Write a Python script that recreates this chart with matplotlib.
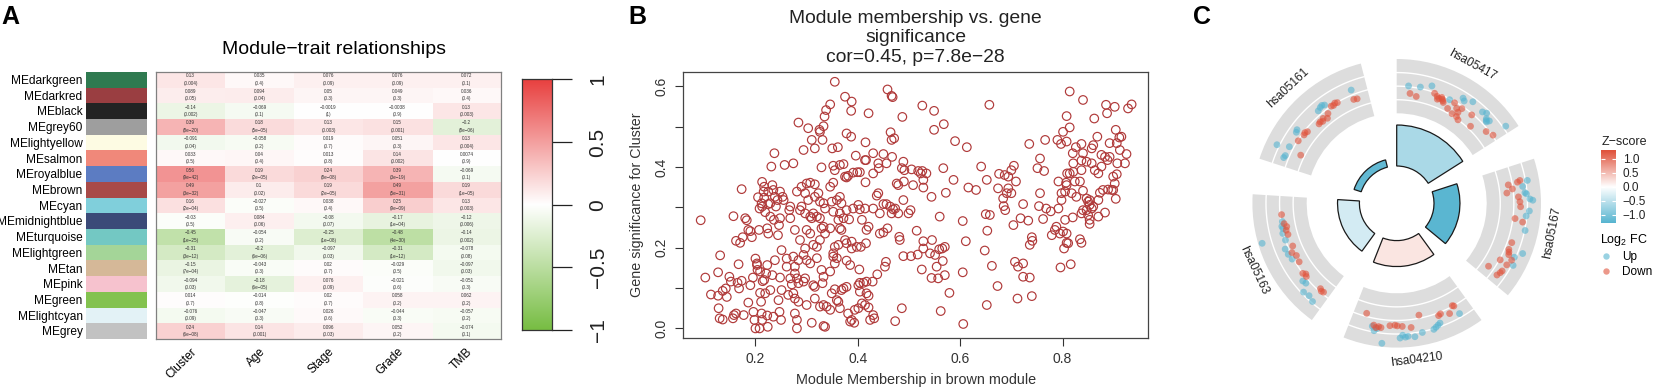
import numpy as np
import matplotlib
matplotlib.use('Agg')
import matplotlib.pyplot as plt
from matplotlib.colors import LinearSegmentedColormap, Normalize, to_rgb
from matplotlib.lines import Line2D

plt.rcParams['font.family'] = ['Liberation Sans', 'DejaVu Sans']
plt.rcParams['mathtext.fontset'] = 'custom'
plt.rcParams['mathtext.rm'] = 'Liberation Sans'
plt.rcParams['mathtext.it'] = 'Liberation Sans:italic'

# ---------------- data: panel A ----------------
modules = ['MEdarkgreen', 'MEdarkred', 'MEblack', 'MEgrey60', 'MElightyellow', 'MEsalmon',
           'MEroyalblue', 'MEbrown', 'MEcyan', 'MEmidnightblue', 'MEturquoise', 'MElightgreen',
           'MEtan', 'MEpink', 'MEgreen', 'MElightcyan', 'MEgrey']
module_colors = ['#2F7A50', '#9A3E41', '#232323', '#9E9E9E', '#FDFBE3', '#F0887A',
                 '#5C7CC2', '#A84A48', '#80CFDB', '#3B4A78', '#73C8C3', '#A4D598',
                 '#D5B898', '#F6C2CE', '#83C24F', '#E3F2F6', '#C2C2C2']
traits = ['Cluster', 'Age', 'Stage', 'Grade', 'TMB']
cor_values = [
    [0.13, 0.035, 0.076, 0.076, 0.072],
    [0.089, 0.094, 0.05, 0.049, 0.036],
    [-0.14, -0.069, -0.0019, -0.0038, 0.13],
    [0.39, 0.18, 0.13, 0.15, -0.2],
    [-0.091, -0.058, 0.019, 0.051, 0.13],
    [0.033, 0.04, 0.013, 0.14, 0.0074],
    [0.56, 0.19, 0.24, 0.39, -0.069],
    [0.49, 0.1, 0.19, 0.49, 0.19],
    [0.16, -0.027, 0.038, 0.25, 0.13],
    [-0.03, 0.084, -0.08, -0.17, -0.12],
    [-0.45, -0.054, -0.25, -0.48, -0.14],
    [-0.31, -0.2, -0.097, -0.31, -0.078],
    [-0.15, -0.043, 0.02, -0.029, -0.097],
    [-0.094, -0.18, 0.076, -0.021, -0.051],
    [0.014, -0.014, 0.02, 0.058, 0.062],
    [-0.076, -0.047, 0.026, -0.044, -0.057],
    [0.24, 0.14, 0.096, 0.052, -0.074],
]
p_values = [
    ['0.004', '0.4', '0.09', '0.09', '0.1'],
    ['0.05', '0.04', '0.3', '0.3', '0.4'],
    ['0.002', '0.1', '1', '0.9', '0.003'],
    ['8e-20', '5e-05', '0.003', '0.001', '8e-06'],
    ['0.04', '0.2', '0.7', '0.3', '0.004'],
    ['0.5', '0.4', '0.8', '0.002', '0.9'],
    ['9e-42', '2e-05', '8e-08', '3e-19', '0.1'],
    ['3e-32', '0.02', '2e-05', '5e-31', '1e-05'],
    ['2e-04', '0.5', '0.4', '9e-09', '0.003'],
    ['0.5', '0.06', '0.07', '1e-04', '0.006'],
    ['1e-25', '0.2', '1e-08', '4e-30', '0.002'],
    ['3e-12', '6e-06', '0.03', '1e-12', '0.08'],
    ['7e-04', '0.3', '0.7', '0.5', '0.03'],
    ['0.03', '6e-05', '0.09', '0.6', '0.3'],
    ['0.7', '0.8', '0.7', '0.2', '0.2'],
    ['0.09', '0.3', '0.6', '0.3', '0.2'],
    ['6e-08', '0.001', '0.03', '0.2', '0.1'],
]

# ---------------- data: panel B (module membership, gene significance) ----------------
gene_points = [
    (0.093, 0.268), (0.102, 0.126), (0.113, 0.084), (0.127, 0.081), (0.127, 0.139), (0.131, 0.181),
    (0.128, 0.050), (0.130, 0.025), (0.136, 0.022), (0.136, 0.093), (0.142, 0.099), (0.144, 0.078),
    (0.149, 0.128), (0.152, 0.116), (0.156, 0.025), (0.158, 0.033), (0.162, 0.037), (0.157, 0.278),
    (0.162, 0.217), (0.165, 0.113), (0.168, 0.099), (0.167, 0.159), (0.170, 0.212), (0.173, 0.345),
    (0.173, 0.118), (0.177, 0.033), (0.175, 0.226), (0.180, 0.273), (0.183, 0.268), (0.186, 0.244),
    (0.190, 0.241), (0.193, 0.226), (0.195, 0.126), (0.186, 0.064), (0.190, 0.107), (0.196, 0.041),
    (0.198, 0.021), (0.200, 0.000), (0.200, 0.173), (0.203, 0.157), (0.204, 0.145), (0.207, 0.244),
    (0.205, 0.325), (0.208, 0.000), (0.209, 0.088), (0.211, 0.066), (0.212, 0.037), (0.213, 0.021),
    (0.213, 0.363), (0.216, 0.339), (0.217, 0.324), (0.213, 0.302), (0.219, 0.288), (0.217, 0.120),
    (0.221, 0.136), (0.223, 0.157), (0.223, 0.248), (0.223, 0.032), (0.224, 0.004), (0.225, 0.308),
    (0.225, 0.235), (0.229, 0.310), (0.231, 0.401), (0.233, 0.355), (0.233, 0.132), (0.235, 0.029),
    (0.237, 0.434), (0.238, 0.326), (0.240, 0.302), (0.244, 0.231), (0.246, 0.256), (0.245, 0.070),
    (0.247, 0.041), (0.250, 0.021), (0.251, 0.194), (0.253, 0.326), (0.255, 0.318), (0.257, 0.405),
    (0.261, 0.173), (0.264, 0.083), (0.266, 0.293), (0.268, 0.302), (0.268, 0.273), (0.271, 0.109),
    (0.208, 0.297), (0.212, 0.310), (0.217, 0.351), (0.225, 0.339), (0.235, 0.343), (0.248, 0.339),
    (0.243, 0.318), (0.229, 0.277), (0.236, 0.269), (0.248, 0.273), (0.203, 0.161), (0.209, 0.141),
    (0.214, 0.117), (0.248, 0.126), (0.251, 0.095), (0.261, 0.153), (0.268, 0.124), (0.238, 0.169),
    (0.229, 0.095), (0.219, 0.087),
    (0.355, 0.611), (0.458, 0.592), (0.466, 0.576), (0.468, 0.573), (0.375, 0.574), (0.388, 0.562),
    (0.387, 0.539), (0.421, 0.533), (0.346, 0.555), (0.338, 0.541), (0.335, 0.525), (0.333, 0.501),
    (0.326, 0.487), (0.325, 0.492), (0.284, 0.510), (0.303, 0.496), (0.310, 0.467), (0.316, 0.446),
    (0.294, 0.442), (0.331, 0.467), (0.378, 0.483), (0.387, 0.475), (0.350, 0.446), (0.361, 0.449),
    (0.415, 0.461), (0.396, 0.428), (0.414, 0.417), (0.430, 0.434), (0.450, 0.432), (0.467, 0.425),
    (0.464, 0.486), (0.471, 0.471), (0.466, 0.467), (0.487, 0.524), (0.526, 0.552), (0.549, 0.539),
    (0.549, 0.492), (0.568, 0.506), (0.657, 0.554), (0.590, 0.464), (0.613, 0.449), (0.274, 0.409),
    (0.329, 0.399), (0.352, 0.403), (0.365, 0.405), (0.372, 0.407), (0.375, 0.376), (0.378, 0.374),
    (0.381, 0.378), (0.391, 0.386), (0.399, 0.387), (0.404, 0.387), (0.415, 0.362), (0.416, 0.417),
    (0.440, 0.409), (0.441, 0.397), (0.489, 0.413), (0.486, 0.397), (0.491, 0.392), (0.505, 0.394),
    (0.518, 0.390), (0.523, 0.384), (0.526, 0.390), (0.534, 0.384), (0.528, 0.368), (0.479, 0.355),
    (0.490, 0.364), (0.508, 0.355), (0.528, 0.349), (0.544, 0.326), (0.567, 0.397), (0.572, 0.336),
    (0.587, 0.368), (0.616, 0.349), (0.631, 0.343), (0.641, 0.401), (0.652, 0.368), (0.676, 0.383),
    (0.687, 0.380), (0.694, 0.376), (0.700, 0.392), (0.705, 0.403), (0.709, 0.364), (0.674, 0.347),
    (0.694, 0.347), (0.691, 0.335), (0.700, 0.335), (0.684, 0.322), (0.685, 0.303), (0.688, 0.293),
    (0.723, 0.308), (0.735, 0.457), (0.766, 0.467), (0.756, 0.421), (0.751, 0.397), (0.764, 0.390),
    (0.756, 0.335), (0.754, 0.303), (0.768, 0.297), (0.777, 0.290), (0.792, 0.297), (0.798, 0.318),
    (0.792, 0.364), (0.807, 0.361), (0.809, 0.384), (0.798, 0.335), (0.805, 0.339), (0.814, 0.587),
    (0.840, 0.566), (0.808, 0.526), (0.814, 0.498), (0.801, 0.487), (0.790, 0.467), (0.797, 0.457),
    (0.808, 0.463), (0.820, 0.434), (0.821, 0.409), (0.826, 0.449), (0.837, 0.457), (0.862, 0.520),
    (0.885, 0.554), (0.887, 0.533), (0.902, 0.549), (0.928, 0.545), (0.935, 0.555), (0.868, 0.475),
    (0.860, 0.454), (0.857, 0.446), (0.876, 0.430), (0.904, 0.492), (0.911, 0.473), (0.915, 0.475),
    (0.892, 0.459), (0.906, 0.459), (0.912, 0.442), (0.925, 0.432), (0.922, 0.409), (0.840, 0.434),
    (0.847, 0.413), (0.837, 0.416), (0.857, 0.409), (0.863, 0.392), (0.870, 0.384), (0.876, 0.401),
    (0.883, 0.425), (0.888, 0.417), (0.892, 0.425), (0.899, 0.376), (0.902, 0.359), (0.906, 0.382),
    (0.907, 0.409), (0.814, 0.384), (0.821, 0.388), (0.824, 0.364), (0.834, 0.364), (0.837, 0.392),
    (0.808, 0.355), (0.818, 0.335), (0.827, 0.326), (0.840, 0.341), (0.847, 0.322), (0.850, 0.314),
    (0.853, 0.306), (0.853, 0.318), (0.857, 0.297), (0.847, 0.293), (0.840, 0.293), (0.837, 0.285),
    (0.850, 0.281), (0.853, 0.269), (0.853, 0.259), (0.860, 0.302), (0.870, 0.318), (0.873, 0.336),
    (0.879, 0.343), (0.889, 0.344), (0.896, 0.343), (0.899, 0.343), (0.904, 0.321), (0.870, 0.277),
    (0.883, 0.287), (0.788, 0.252), (0.795, 0.235), (0.801, 0.240), (0.808, 0.235), (0.785, 0.244),
    (0.779, 0.231), (0.808, 0.212), (0.803, 0.198), (0.811, 0.211), (0.834, 0.221), (0.837, 0.212),
    (0.796, 0.151), (0.816, 0.159), (0.820, 0.275), (0.805, 0.269), (0.762, 0.271), (0.740, 0.226),
    (0.736, 0.207), (0.741, 0.217), (0.704, 0.256), (0.718, 0.273), (0.733, 0.267), (0.707, 0.165),
    (0.713, 0.153), (0.723, 0.161), (0.723, 0.128), (0.736, 0.126), (0.712, 0.074), (0.740, 0.080),
    (0.673, 0.105), (0.652, 0.058), (0.606, 0.011), (0.562, 0.043), (0.579, 0.088), (0.605, 0.139),
    (0.605, 0.266), (0.653, 0.242), (0.648, 0.193), (0.662, 0.155), (0.611, 0.216), (0.650, 0.283),
    (0.658, 0.281), (0.560, 0.277), (0.545, 0.219), (0.528, 0.216), (0.515, 0.242), (0.489, 0.179),
    (0.504, 0.179), (0.517, 0.183), (0.528, 0.198), (0.541, 0.186), (0.551, 0.182), (0.559, 0.196),
    (0.570, 0.202), (0.565, 0.198), (0.566, 0.167), (0.554, 0.153), (0.525, 0.146), (0.544, 0.125),
    (0.557, 0.124), (0.570, 0.132), (0.486, 0.050), (0.473, 0.018), (0.481, 0.227), (0.482, 0.219),
    (0.443, 0.235), (0.450, 0.238), (0.458, 0.248), (0.455, 0.165), (0.453, 0.153), (0.438, 0.134),
    (0.429, 0.116), (0.417, 0.116), (0.411, 0.113), (0.404, 0.113), (0.421, 0.081), (0.404, 0.091),
    (0.417, 0.087), (0.394, 0.046), (0.401, 0.050), (0.408, 0.062), (0.414, 0.058), (0.421, 0.052),
    (0.430, 0.033), (0.432, 0.025), (0.424, 0.021), (0.381, 0.037), (0.388, 0.021), (0.393, 0.014),
    (0.385, 0.017), (0.403, 0.146), (0.401, 0.107), (0.388, 0.198), (0.398, 0.202), (0.406, 0.202),
    (0.416, 0.211), (0.375, 0.219), (0.378, 0.211), (0.388, 0.215), (0.385, 0.157), (0.378, 0.168),
    (0.365, 0.248), (0.368, 0.244), (0.362, 0.269), (0.372, 0.273), (0.383, 0.270), (0.352, 0.289),
    (0.365, 0.285), (0.378, 0.293), (0.391, 0.297), (0.401, 0.306), (0.404, 0.295), (0.414, 0.297),
    (0.349, 0.314), (0.359, 0.318), (0.365, 0.326), (0.368, 0.310), (0.408, 0.269), (0.421, 0.252),
    (0.417, 0.244), (0.430, 0.297), (0.437, 0.329), (0.440, 0.335), (0.443, 0.285), (0.450, 0.308),
    (0.456, 0.308), (0.463, 0.302), (0.469, 0.295), (0.466, 0.285), (0.473, 0.297), (0.479, 0.285),
    (0.489, 0.318), (0.499, 0.285), (0.503, 0.293), (0.456, 0.409), (0.430, 0.384), (0.476, 0.359),
    (0.346, 0.351), (0.352, 0.361), (0.355, 0.392), (0.326, 0.314), (0.333, 0.310), (0.336, 0.297),
    (0.316, 0.326), (0.323, 0.335), (0.313, 0.285), (0.320, 0.277), (0.326, 0.273), (0.307, 0.277),
    (0.310, 0.273), (0.297, 0.285), (0.290, 0.302), (0.287, 0.293), (0.281, 0.339), (0.290, 0.351),
    (0.300, 0.359), (0.307, 0.361), (0.316, 0.357), (0.297, 0.335), (0.303, 0.318), (0.329, 0.248),
    (0.333, 0.252), (0.346, 0.248), (0.336, 0.235), (0.326, 0.219), (0.300, 0.244), (0.307, 0.235),
    (0.313, 0.207), (0.297, 0.198), (0.287, 0.219), (0.277, 0.244), (0.274, 0.178), (0.284, 0.169),
    (0.294, 0.182), (0.300, 0.169), (0.307, 0.161), (0.320, 0.174), (0.277, 0.153), (0.277, 0.136),
    (0.281, 0.124), (0.284, 0.112), (0.294, 0.116), (0.297, 0.124), (0.329, 0.145), (0.333, 0.128),
    (0.331, 0.112), (0.346, 0.141), (0.352, 0.178), (0.359, 0.174), (0.355, 0.161), (0.274, 0.087),
    (0.277, 0.074), (0.284, 0.066), (0.300, 0.058), (0.316, 0.074), (0.277, 0.037), (0.281, 0.021),
    (0.281, 0.000), (0.310, 0.014), (0.333, 0.006), (0.336, 0.004), (0.326, 0.054), (0.333, 0.058),
    (0.339, 0.054), (0.346, 0.046), (0.359, 0.070), (0.362, 0.066), (0.365, 0.050), (0.368, 0.095),
    (0.372, 0.099), (0.378, 0.103), (0.349, 0.087), (0.355, 0.097), (0.313, 0.107), (0.316, 0.103),
    (0.320, 0.202), (0.362, 0.207), (0.355, 0.202), (0.352, 0.186),
]

# ---------------- data: panel C (GOCircle) ----------------
terms = ['hsa05417', 'hsa05167', 'hsa04210', 'hsa05163', 'hsa05161']
term_neglogp = [6.0, 3.8, 3.8, 3.2, 1.1]
term_zscore = [-0.66, -1.26, 0.2, -0.34, -1.2]
# (position along the sector 0..1, logFC ring value)
up_genes = [
    [(0.10, 2.06), (0.20, 2.11), (0.29, 2.40), (0.47, 1.94), (0.56, 2.53), (0.58, 2.40), (0.64, 2.72),
     (0.75, 2.6), (0.78, 2.75), (0.81, 2.45), (0.82, 2.35), (0.83, 2.30), (0.84, 2.50), (0.95, 3.21)],
    [(0.14, 3.14), (0.18, 2.73), (0.23, 2.85), (0.24, 2.95), (0.28, 3.19), (0.29, 3.4), (0.37, 3.16),
     (0.41, 2.95), (0.52, 3.04), (0.69, 3.36), (0.80, 3.09), (0.74, 2.9)],
    [(0.11, 2.72), (0.28, 2.75), (0.30, 2.85), (0.32, 2.95), (0.34, 3.05), (0.43, 3.07), (0.49, 3.29),
     (0.54, 3.2), (0.56, 3.25), (0.58, 3.1), (0.60, 3.3), (0.73, 3.74), (0.78, 2.7), (0.80, 2.9),
     (0.82, 2.6)],
    [(0.08, 2.9), (0.13, 2.75), (0.18, 2.85), (0.22, 2.28), (0.25, 2.35), (0.45, 2.1), (0.50, 2.2),
     (0.55, 2.25), (0.62, 2.0), (0.65, 3.71), (0.68, 2.05), (0.72, 1.95), (0.74, 2.0), (0.78, 1.9)],
    [(0.07, 2.35), (0.09, 2.3), (0.14, 3.19), (0.17, 2.31), (0.30, 2.43), (0.32, 2.5), (0.55, 2.3),
     (0.58, 2.4), (0.60, 2.45), (0.62, 2.35), (0.87, 2.36)],
]
down_genes = [
    [(0.12, 1.52), (0.18, 1.37), (0.33, 1.94), (0.36, 1.8), (0.37, 1.6), (0.38, 1.7), (0.40, 1.85),
     (0.41, 1.75), (0.42, 1.65), (0.43, 1.55), (0.49, 1.3), (0.52, 1.91), (0.55, 1.13), (0.56, 1.64),
     (0.59, 1.45), (0.60, 1.84), (0.60, 1.13), (0.63, 1.0), (0.70, 1.91), (0.76, 1.23), (0.89, 1.82),
     (0.95, 2.06)],
    [(0.13, 2.6), (0.14, 2.40), (0.15, 1.70), (0.19, 1.96), (0.22, 1.52), (0.26, 2.35), (0.30, 2.45),
     (0.34, 2.5), (0.44, 2.16), (0.46, 2.75), (0.64, 2.33), (0.70, 2.3), (0.72, 2.38), (0.74, 2.45),
     (0.77, 2.82), (0.81, 2.06), (0.82, 2.66), (0.88, 2.6), (0.90, 2.55), (0.93, 2.45), (0.91, 1.57)],
    [(0.12, 2.03), (0.13, 1.95), (0.18, 2.38), (0.25, 2.13), (0.27, 2.2), (0.43, 1.77), (0.51, 2.58),
     (0.58, 2.45), (0.62, 2.4), (0.64, 2.35), (0.68, 2.4), (0.75, 2.6), (0.77, 2.55), (0.79, 2.65),
     (0.81, 2.5), (0.89, 1.77)],
    [(0.06, 1.85), (0.08, 1.9), (0.10, 1.8), (0.26, 1.94), (0.28, 1.85), (0.30, 2.0), (0.40, 1.75),
     (0.46, 1.7), (0.50, 1.9), (0.55, 1.65), (0.66, 1.7), (0.70, 1.75), (0.73, 1.65), (0.76, 1.8),
     (0.84, 1.89)],
    [(0.15, 1.28), (0.25, 1.96), (0.32, 1.85), (0.34, 1.9), (0.36, 1.8), (0.48, 1.55), (0.50, 1.6),
     (0.52, 1.5), (0.54, 1.65), (0.57, 1.45), (0.60, 1.7), (0.66, 2.0), (0.68, 1.95), (0.70, 2.05),
     (0.72, 1.98), (0.86, 1.65), (0.89, 1.6)],
]

W, H = 1653, 389
fig = plt.figure(figsize=(W / 100, H / 100), dpi=100)


def add_ax(x0, y0, x1, y1, **kw):
    return fig.add_axes([x0 / W, 1 - y1 / H, (x1 - x0) / W, (y1 - y0) / H], **kw)


def fx(x):
    return x / W


def fy(y):
    return 1 - y / H


def minus(s):
    return s.replace('-', '\u2212')


# ================= Panel A =================
cmap_a = LinearSegmentedColormap.from_list('gwr', ['#77BD43', '#FFFFFF', '#E8403F'])
cor = np.array(cor_values)
n_rows = len(modules)

ax_sw = add_ax(86, 71.7, 146.7, 338.7)
sw = np.array([to_rgb(c) for c in module_colors])[:, None, :]
ax_sw.imshow(sw, aspect='auto', interpolation='nearest')
ax_sw.set_xticks([])
ax_sw.set_yticks(range(n_rows))
ax_sw.set_yticklabels(modules, fontsize=8.6)
ax_sw.tick_params(axis='y', length=0, pad=2.5)
for s in ax_sw.spines.values():
    s.set_visible(False)

ax_hm = add_ax(156, 71.7, 501, 338.7)
ax_hm.imshow(cor, cmap=cmap_a, vmin=-1, vmax=1, aspect='auto', interpolation='nearest')
for i in range(n_rows):
    for j in range(len(traits)):
        label = minus(str(cor_values[i][j])) + '\n(' + minus(p_values[i][j]) + ')'
        ax_hm.text(j, i, label, ha='center', va='center', fontsize=3.3, color='#333333', linespacing=1.6)
ax_hm.set_yticks([])
ax_hm.set_xticks(range(len(traits)))
ax_hm.set_xticklabels(traits, rotation=45, ha='right', rotation_mode='anchor', fontsize=8.6)
ax_hm.tick_params(axis='x', length=0, pad=5)
for s in ax_hm.spines.values():
    s.set_color('#808080')
    s.set_linewidth(0.9)

fig.text(fx(334), fy(50), 'Module\u2212trait relationships', ha='center', va='center', fontsize=14)

cax = add_ax(521.7, 79.3, 551.7, 330)
grad = np.linspace(1, -1, 256)[:, None]
cax.imshow(grad, cmap=cmap_a, vmin=-1, vmax=1, aspect='auto', extent=[0, 1, -1, 1])
cax.set_xticks([])
cax.yaxis.tick_right()
cax.set_yticks([-1, -0.5, 0, 0.5, 1])
cax.set_yticklabels(['\u22121', '\u22120.5', '0', '0.5', '1'], fontsize=15)
cax.tick_params(axis='y', length=14.5, width=0.9, pad=12, colors='#222222')
for lbl in cax.get_yticklabels():
    lbl.set_rotation(90)
    lbl.set_va('center')
for s in cax.spines.values():
    s.set_color('#333333')
    s.set_linewidth(0.9)

# ================= Panel B =================
mm = [p[0] for p in gene_points]
gs = [p[1] for p in gene_points]
axb = add_ax(683.3, 71.7, 1148, 337.7)
axb.scatter(mm, gs, s=38, facecolors='none', edgecolors='#B03A3A', linewidths=0.85)
axb.set_xlim(0.059, 0.967)
axb.set_ylim(-0.023, 0.636)
axb.set_xticks([0.2, 0.4, 0.6, 0.8])
axb.set_xticklabels(['0.2', '0.4', '0.6', '0.8'])
axb.set_yticks([0.0, 0.1, 0.2, 0.3, 0.4, 0.5, 0.6])
axb.set_yticklabels(['0.0', '', '0.2', '', '0.4', '', '0.6'])
axb.tick_params(length=6, width=0.8, labelsize=10, colors='#333333')
axb.tick_params(axis='x', pad=4)
axb.tick_params(axis='y', pad=5)
for lbl in axb.get_yticklabels():
    lbl.set_rotation(90)
    lbl.set_va('center')
for s in axb.spines.values():
    s.set_color('#444444')
    s.set_linewidth(0.9)

fig.text(fx(915.7), fy(38), 'Module membership vs. gene\nsignificance\ncor=0.45, p=7.8e\u221228',
         ha='center', va='center', fontsize=13.9, linespacing=1.2, color='#222222')
fig.text(fx(915.7), fy(380), 'Module Membership in brown module', ha='center', va='center',
         fontsize=10.4, color='#333333')
fig.text(fx(637), fy(204.7), 'Gene significance for Cluster', ha='center', va='center',
         rotation=90, fontsize=10.3, color='#333333')

# ================= Panel C =================
cmap_c = LinearSegmentedColormap.from_list('zs', ['#56B4D0', '#FFFFFF', '#E0533C'])
norm_c = Normalize(-1.3, 1.3)
cx, cy, R = 1396.7, 203.3, 180
axc = add_ax(cx - R, cy - R, cx + R, cy + R, projection='polar')
axc.set_ylim(0, R)
axc.axis('off')

ring_in, ring_out, bar_base, bar_scale = 90, 144.3, 37.3, 6.83
ring_step = (ring_out - ring_in) / 4
span = np.deg2rad(57.6)
for i, term in enumerate(terms):
    start = np.deg2rad(90 - 72 * i)
    mid = start - span / 2
    axc.bar(mid, ring_out - ring_in, width=span, bottom=ring_in, color='#DDDDDD',
            edgecolor='none', zorder=1)
    th = np.linspace(start - span, start, 60)
    for v in (1, 2, 3):
        axc.plot(th, np.full(60, ring_in + v * ring_step), color='white', lw=1.0, zorder=2)
    axc.bar(mid, term_neglogp[i] * bar_scale, width=span, bottom=bar_base,
            color=cmap_c(norm_c(term_zscore[i])), edgecolor='#1A1A1A', linewidth=0.9, zorder=3)
    for genes, col in ((up_genes[i], '#56B4D0'), (down_genes[i], '#E0533C')):
        t = [start - f * span for f, v in genes]
        r = [ring_in + v * ring_step for f, v in genes]
        axc.scatter(t, r, s=24, color=col, alpha=0.6, edgecolors='none', zorder=4)
    mid_deg = 90 - 72 * i - 28.8
    if np.sin(np.deg2rad(mid_deg)) >= 0:
        rot = mid_deg - 90
    else:
        rot = mid_deg + 90
    axc.text(mid, 158, term, rotation=rot, rotation_mode='anchor', ha='center', va='center',
             fontsize=8.6, color='#222222')

# z-score legend
fig.text(fx(1602), fy(142), 'Z\u2212score', ha='left', va='center', fontsize=9, color='#222222')
zax = add_ax(1601, 150, 1616, 223)
zgrad = np.linspace(1.32, -1.29, 200)[:, None]
zax.imshow(zgrad, cmap=cmap_c, norm=norm_c, aspect='auto', extent=[0, 1, -1.29, 1.32])
zax.set_xticks([])
zax.set_yticks([-1.0, -0.5, 0.0, 0.5, 1.0])
zax.set_yticklabels(['\u22121.0', '\u22120.5', '0.0', '0.5', '1.0'], fontsize=8.5, color='#222222')
zax.tick_params(axis='y', direction='in', length=3, color='white', left=True, right=True,
                labelleft=False, labelright=True, pad=5)
for s in zax.spines.values():
    s.set_visible(False)

handles = [Line2D([], [], marker='o', ls='none', markersize=4.6, color='#56B4D0', alpha=0.6, markeredgecolor='none'),
           Line2D([], [], marker='o', ls='none', markersize=4.6, color='#E0533C', alpha=0.6, markeredgecolor='none')]
leg = fig.legend(handles, ['Up', 'Down'], title='Log$_2$ FC', loc='upper left',
                 bbox_to_anchor=(fx(1600), fy(232)), frameon=False, fontsize=8.5, title_fontsize=9,
                 borderpad=0, handlelength=1.0, handletextpad=0.9, labelspacing=0.25, borderaxespad=0)
leg._legend_box.align = 'left'

# panel letters
for letter, x in (('A', 1), ('B', 628), ('C', 1193)):
    fig.text(fx(x), fy(17), letter, ha='left', va='center', fontsize=18, fontweight='bold')

fig.savefig('out.png', dpi=100)
